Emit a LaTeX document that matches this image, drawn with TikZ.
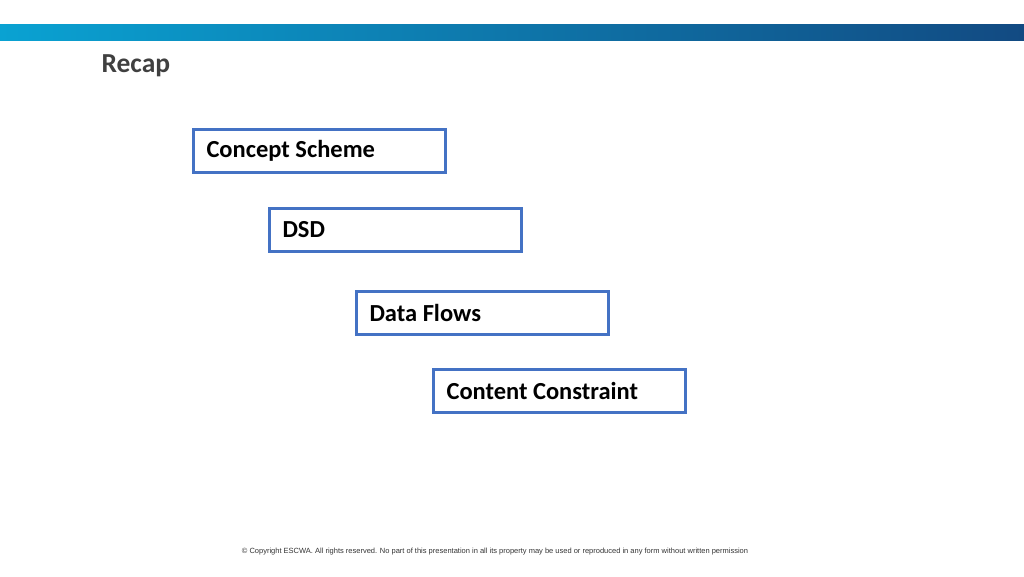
\documentclass[tikz,border=0pt]{standalone}
\usepackage{fontspec}
\setmainfont{Carlito}
\newfontfamily\footfont{Liberation Sans}
\begin{document}
\begin{tikzpicture}[x=1pt,y=-1pt,
  box/.style={draw=boxblue,line width=2.6pt,minimum width=252pt,minimum height=43pt,inner sep=0pt},
  lbl/.style={anchor=west,font=\fontsize{24.5}{28}\selectfont\bfseries,text=black}]
\definecolor{boxblue}{HTML}{4472C4}
\definecolor{barl}{HTML}{0AA2D2}
\definecolor{barr}{HTML}{124A82}
\useasboundingbox (0,0) rectangle (1024,576);
\fill[left color=barl,right color=barr] (0,24) rectangle (1024,40);
\node[anchor=west,font=\fontsize{27.5}{30}\selectfont\bfseries,text=black!75] (t) at (98,66) {Recap};
\foreach \n/\x/\y/\s in {a/192/128/Concept Scheme,b/268/207/DSD,c/355/290/Data Flows,d/432/368/Content Constraint}{
  \node[box,anchor=north west] (\n) at (\x,\y) {};
  \node[lbl] (\n t) at ([xshift=11pt]\n.west) {\s};
}
\node[font=\fontsize{7.5}{9}\selectfont\footfont,text=black!80] (f) at (495,552) {\textcopyright{} Copyright ESCWA. All rights reserved. No part of this presentation in all its property may be used or reproduced in any form without written permission};
\end{tikzpicture}
\end{document}
